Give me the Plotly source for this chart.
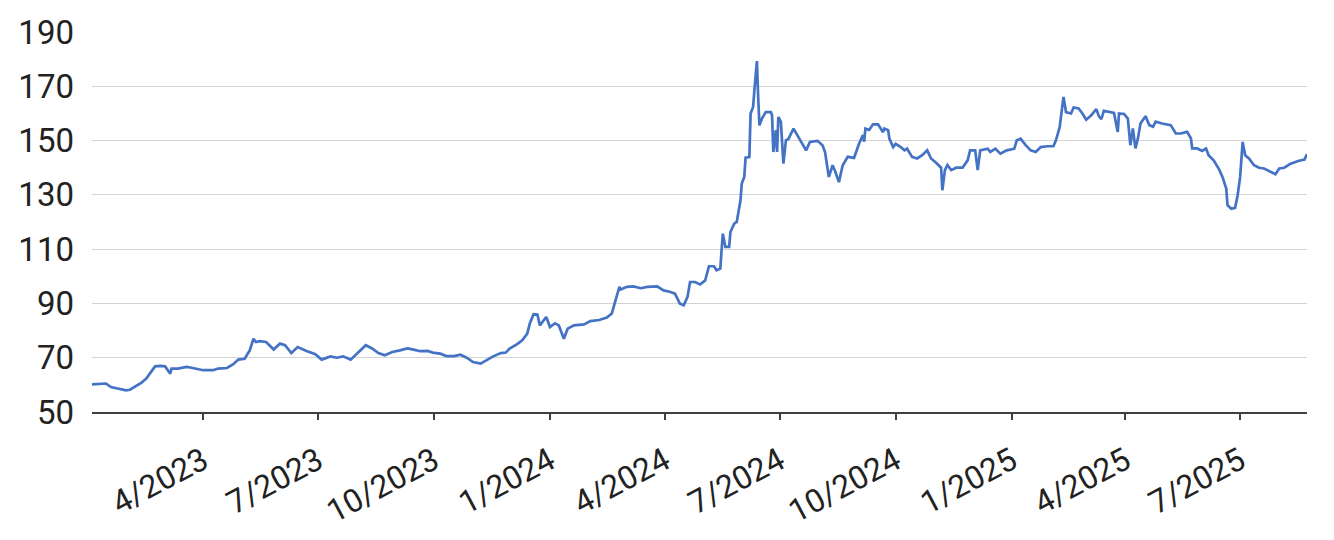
import plotly.graph_objects as go

dates = [
    "2023-01-03","2023-01-10","2023-01-14","2023-01-18","2023-01-22","2023-01-26","2023-01-30",
    "2023-02-02","2023-02-06","2023-02-11","2023-02-15","2023-02-18","2023-02-22","2023-02-26",
    "2023-03-02","2023-03-06","2023-03-07","2023-03-12","2023-03-19","2023-03-23",
    "2023-04-01","2023-04-09","2023-04-13","2023-04-20","2023-04-25","2023-04-29",
    "2023-05-04","2023-05-08","2023-05-11","2023-05-13","2023-05-16","2023-05-21","2023-05-27",
    "2023-06-01","2023-06-05","2023-06-10","2023-06-15","2023-06-22","2023-06-29",
    "2023-07-04","2023-07-11","2023-07-16","2023-07-21","2023-07-27",
    "2023-08-01","2023-08-08","2023-08-13","2023-08-18","2023-08-23","2023-08-29",
    "2023-09-04","2023-09-10","2023-09-15","2023-09-20","2023-09-26","2023-09-30",
    "2023-10-06","2023-10-11","2023-10-17","2023-10-22","2023-10-27",
    "2023-11-01","2023-11-07","2023-11-12","2023-11-17","2023-11-23","2023-11-27","2023-11-30",
    "2023-12-06","2023-12-10","2023-12-14","2023-12-16","2023-12-19","2023-12-22","2023-12-24","2023-12-29",
    "2024-01-01","2024-01-05","2024-01-08","2024-01-12","2024-01-15","2024-01-20","2024-01-28",
    "2024-02-02","2024-02-09","2024-02-15","2024-02-19","2024-02-22","2024-02-25","2024-02-26","2024-02-28",
    "2024-03-02","2024-03-07","2024-03-13","2024-03-18","2024-03-26","2024-03-31",
    "2024-04-05","2024-04-09","2024-04-13","2024-04-16","2024-04-19","2024-04-21","2024-04-25","2024-04-29",
    "2024-05-03","2024-05-06","2024-05-10","2024-05-12","2024-05-15","2024-05-16","2024-05-17","2024-05-19",
    "2024-05-22","2024-05-23","2024-05-26","2024-05-28","2024-05-30","2024-05-31",
    "2024-06-01","2024-06-03","2024-06-04","2024-06-07","2024-06-08","2024-06-10","2024-06-11","2024-06-13",
    "2024-06-14","2024-06-15","2024-06-17","2024-06-20","2024-06-24","2024-06-25","2024-06-26","2024-06-28",
    "2024-06-29","2024-06-30",
    "2024-07-02","2024-07-04","2024-07-06","2024-07-08","2024-07-12","2024-07-15","2024-07-18","2024-07-22",
    "2024-07-25","2024-07-31",
    "2024-08-04","2024-08-06","2024-08-09","2024-08-12","2024-08-14","2024-08-17","2024-08-20","2024-08-24","2024-08-29",
    "2024-09-02","2024-09-05","2024-09-06","2024-09-07","2024-09-10","2024-09-13","2024-09-17","2024-09-21",
    "2024-09-22","2024-09-25","2024-09-26","2024-09-29",
    "2024-10-01","2024-10-05","2024-10-08","2024-10-10","2024-10-14","2024-10-18","2024-10-22","2024-10-26","2024-10-29",
    "2024-11-02","2024-11-06","2024-11-07","2024-11-09","2024-11-11","2024-11-14","2024-11-18","2024-11-23",
    "2024-11-27","2024-11-29",
    "2024-12-03","2024-12-05","2024-12-07","2024-12-13","2024-12-15","2024-12-19","2024-12-23","2024-12-28",
    "2025-01-03","2025-01-05","2025-01-08","2025-01-12","2025-01-16","2025-01-20","2025-01-24","2025-01-29",
    "2025-02-03","2025-02-05","2025-02-08","2025-02-09","2025-02-11","2025-02-13","2025-02-17","2025-02-19",
    "2025-02-23","2025-02-26",
    "2025-03-01","2025-03-05","2025-03-09","2025-03-11","2025-03-13","2025-03-15","2025-03-19","2025-03-23",
    "2025-03-26","2025-03-27","2025-03-31",
    "2025-04-03","2025-04-05","2025-04-07","2025-04-09","2025-04-11","2025-04-13","2025-04-17","2025-04-20",
    "2025-04-23","2025-04-25","2025-04-30",
    "2025-05-07","2025-05-11","2025-05-15","2025-05-20","2025-05-23","2025-05-24","2025-05-28",
    "2025-06-01","2025-06-04","2025-06-06","2025-06-10","2025-06-14","2025-06-17","2025-06-20","2025-06-21",
    "2025-06-24","2025-06-27","2025-06-29",
    "2025-07-01","2025-07-03","2025-07-05","2025-07-08","2025-07-12","2025-07-16","2025-07-20","2025-07-25","2025-07-29",
    "2025-08-01","2025-08-05","2025-08-10","2025-08-16","2025-08-21","2025-08-23",
]

values = [
    60.2,60.4,60.5,59.2,58.8,58.5,58.0,
    58.2,59.2,60.7,62.3,64.4,66.8,67.0,
    66.8,64.1,66.0,66.0,66.6,66.3,
    65.4,65.4,66.0,66.2,67.6,69.3,
    69.6,72.7,77.0,75.8,76.1,75.8,73.0,
    75.2,74.6,71.7,73.9,72.5,71.3,
    69.3,70.5,70.0,70.5,69.3,
    71.5,74.6,73.4,71.7,70.9,72.1,
    72.7,73.4,73.0,72.4,72.5,71.9,
    71.5,70.6,70.6,71.1,70.0,
    68.4,67.8,69.3,70.5,71.7,71.9,73.4,
    75.0,76.4,78.9,82.6,86.0,85.9,81.9,85.0,
    81.3,82.7,81.9,77.0,80.7,81.9,82.3,
    83.5,83.9,84.8,86.3,91.2,96.1,95.1,95.5,
    96.1,96.3,95.6,96.1,96.3,94.8,
    94.3,93.6,89.9,89.3,92.4,97.9,97.9,97.0,
    98.5,103.7,103.7,102.2,102.8,109.6,115.7,110.8,
    110.8,116.3,119.4,120.0,125.5,128.0,
    134.2,136.6,143.7,143.9,160.0,162.4,168.5,179.3,
    166.1,155.6,158.1,160.5,160.5,159.3,145.8,153.8,
    145.8,158.7,
    156.9,141.5,150.1,150.6,154.4,152.0,150.1,146.4,
    149.5,149.9,
    148.3,145.8,136.6,140.9,138.7,134.7,140.9,144.0,143.6,
    148.9,152.0,149.6,154.4,153.9,156.0,156.0,153.1,
    154.4,153.8,150.7,147.6,
    148.8,147.6,146.4,147.0,144.0,143.4,144.6,146.4,143.4,
    141.8,140.0,131.7,139.1,141.0,139.1,140.0,140.0,
    142.7,146.4,
    146.4,139.1,146.4,147.0,145.8,147.0,145.2,146.4,
    147.0,150.1,150.7,148.3,146.4,145.8,147.6,147.9,
    147.9,150.1,155.0,159.3,166.1,160.5,160.0,162.2,
    161.8,160.0,
    157.7,159.3,161.6,159.0,157.9,161.0,160.6,160.2,
    153.2,160.0,159.8,
    158.1,148.3,154.5,147.1,150.8,156.3,159.0,155.7,
    155.1,157.0,156.3,
    155.7,152.6,152.6,153.2,150.8,147.1,147.1,
    146.2,147.1,144.6,142.7,139.7,136.6,132.3,126.2,
    124.9,125.2,129.8,
    136.6,149.5,144.6,143.4,140.9,140.0,139.7,138.4,137.6,
    139.7,140.0,141.5,142.5,143.0,145.0,
]

tick_dates = ["2023-04-01","2023-07-01","2023-10-01","2024-01-01","2024-04-01",
              "2024-07-01","2024-10-01","2025-01-01","2025-04-01","2025-07-01"]
tick_labels = ["4/2023","7/2023","10/2023","1/2024","4/2024",
               "7/2024","10/2024","1/2025","4/2025","7/2025"]
y_ticks = [50, 70, 90, 110, 130, 150, 170, 190]

fig = go.Figure()
fig.add_trace(go.Scatter(
    x=dates, y=values, mode="lines",
    line=dict(color="#4472C4", width=2.7),
    hoverinfo="skip", showlegend=False,
))

fig.update_layout(
    width=1334, height=540,
    margin=dict(l=84, r=35, t=24, b=136, pad=0, autoexpand=False),
    paper_bgcolor="white", plot_bgcolor="white",
    font=dict(family="Roboto", size=33, color="#222222"),
)
fig.update_xaxes(
    range=["2023-01-03", "2025-08-23"],
    tickmode="array", tickvals=tick_dates, ticktext=tick_labels,
    tickangle=-28, ticks="outside", ticklen=6, tickwidth=1.5, tickcolor="#404040",
    ticklabelstandoff=10, automargin=False,
    showline=True, linecolor="#404040", linewidth=1.5,
    showgrid=False, zeroline=False,
    tickfont=dict(family="Roboto", size=32, color="#222222"),
)
fig.update_yaxes(
    range=[50, 190], tickmode="array", tickvals=y_ticks,
    showgrid=True, gridcolor="#d4d4d4", gridwidth=1.2,
    zeroline=False, showline=False, ticks="",
    ticklabelstandoff=17, automargin=False,
    tickfont=dict(family="Roboto", size=33, color="#222222"),
)

fig.write_html("out.html")
